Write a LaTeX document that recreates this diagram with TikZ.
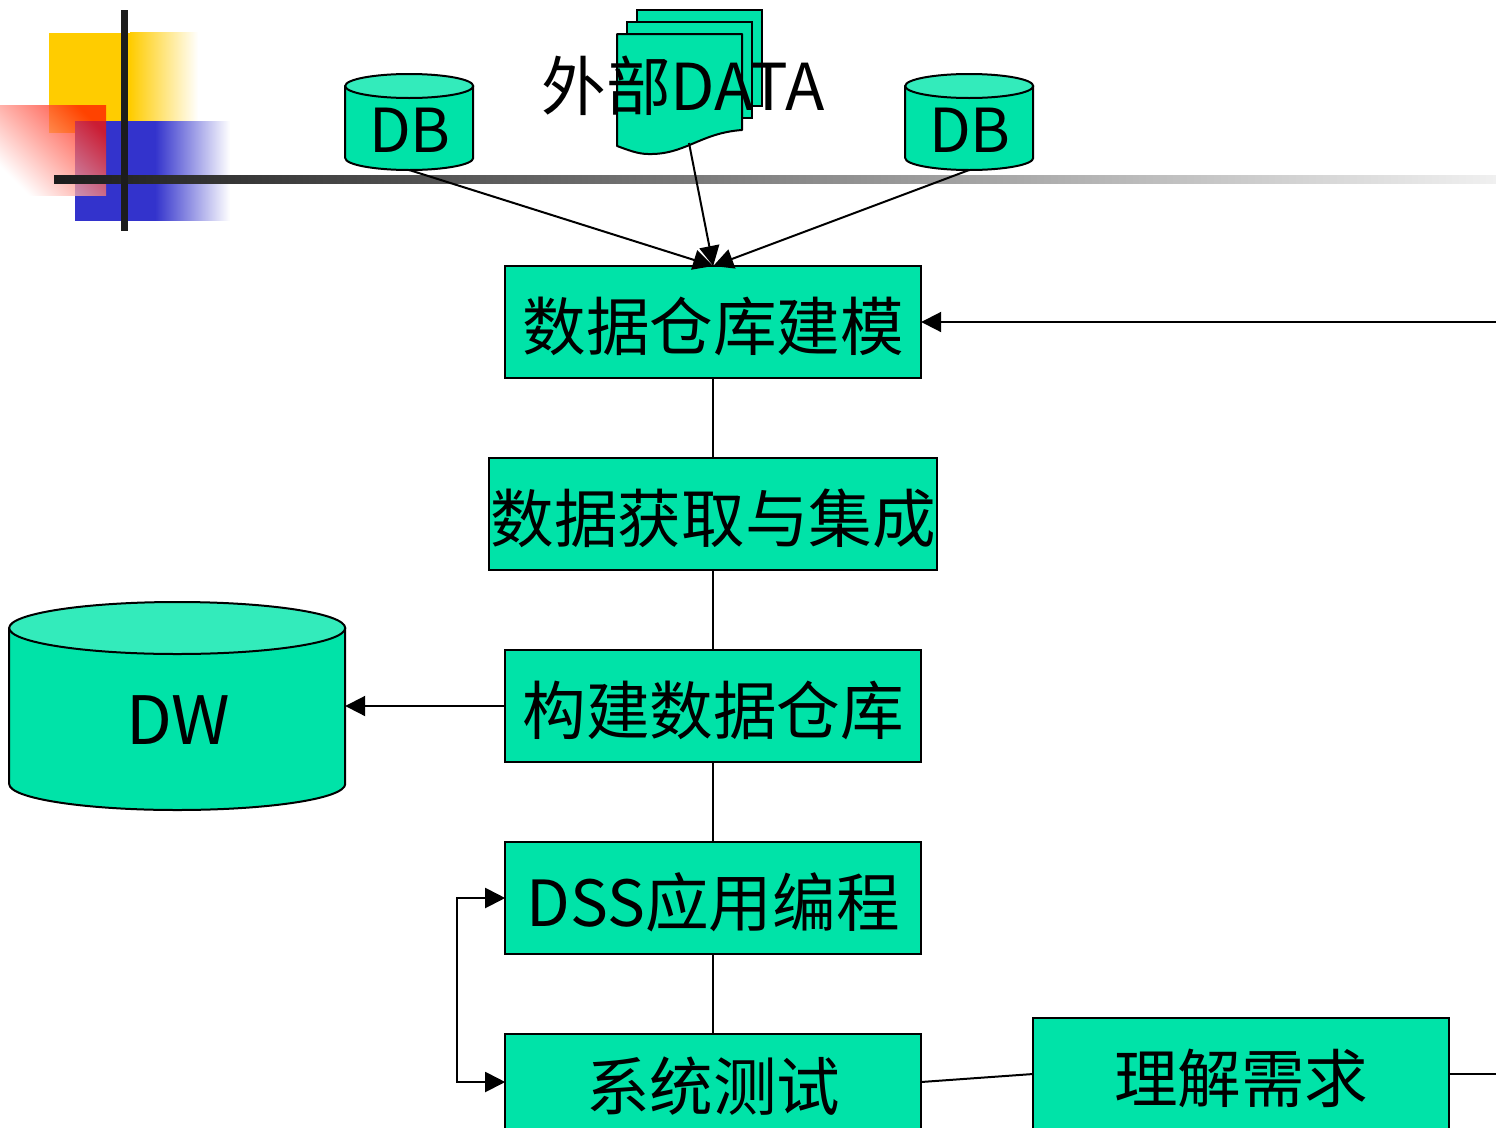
\documentclass[tikz,border=0pt]{standalone}
\usepackage{fontspec}
\setmainfont{Noto Sans CJK SC}
\usetikzlibrary{arrows.meta}
\definecolor{fillgreen}{HTML}{00E3A8}
\definecolor{topgreen}{HTML}{33EBBB}
\definecolor{barblack}{HTML}{1C1C1C}
\definecolor{barend}{HTML}{F0F0F0}
\definecolor{blockyellow}{HTML}{FFCC00}
\definecolor{blockblue}{HTML}{3333CC}
\definecolor{blockred}{HTML}{FF1500}
\tikzset{
  x=0.75pt,y=-0.75pt,
  line/.style={line width=1.5pt,black},
  arrowline/.style={line,-{Triangle[length=15pt,width=15pt]}},
  lab/.style={font=\fontsize{48.5pt}{54pt}\selectfont,inner sep=0pt,outer sep=0pt,text=black},
  flow/.style={font=\fontsize{47.7pt}{54pt}\selectfont,inner sep=0pt,outer sep=0pt,text=black,text height=49pt,text depth=6pt,draw=black,line width=1.5pt,fill=fillgreen,minimum width=312pt,minimum height=84pt},
  page/.style={draw=black,line width=1.5pt,fill=fillgreen},
  capfill/.style={draw=black,line width=1.5pt,fill=topgreen}
}
\newcommand{\cylpath}[6]{% left,right,top,bottom,ry,name
  \draw[line,fill=fillgreen,line join=round] (#1,#3) -- (#1,#4) arc[start angle=180,delta angle=-180,x radius={(#2-#1)/2},y radius=#5] -- (#2,#3) -- cycle;
  \draw[capfill] ({(#1+#2)/2},#3) ellipse[x radius={(#2-#1)/2},y radius=#5];
  \coordinate (#6) at ({(#1+#2)/2},{#4+#5});
}
\begin{document}
\begin{tikzpicture}
\useasboundingbox (0,0) rectangle (1496,1128);
\clip (0,0) rectangle (1496,1128);
\fill[white] (0,0) rectangle (1496,1128);
% decoration
\fill[blockyellow] (49,33) rectangle (130,133);
\shade[left color=blockyellow,right color=white] (130,32) rectangle (198,121);
\fill[blockblue] (75,121) rectangle (155.5,221);
\shade[left color=blockblue,right color=white] (155,121) rectangle (230,220.5);
\shade[top color=blockred,bottom color=white,shading angle=315,opacity=0.75] (0,105) rectangle (106,195);
\shade[left color=barblack,right color=barend] (54,175) rectangle (1496,183);
\fill[barblack] (121,10) rectangle (128,231);
% stacked document
\draw[page] (637,10) rectangle (762,106);
\draw[page] (627,22) rectangle (751.5,118);
\draw[page,line join=round] (617,34) -- (742,34) -- (742,130) .. controls (700,133) and (685,155) .. (648,154) .. controls (638,154) and (628,150) .. (617,146) -- cycle;
\coordinate (docfoot) at (689,143);
\node[lab,anchor=west] (extlabel) at (541.5,86) {外部DATA};
% cylinders
\cylpath{345.2}{473.2}{86}{158}{12}{dbleftfoot}
\node[lab,font=\fontsize{45.5pt}{54pt}\selectfont] (dbleft) at (410,130) {DB};
\cylpath{905.2}{1033.2}{86}{158}{12}{dbrightfoot}
\node[lab,font=\fontsize{45.5pt}{54pt}\selectfont] (dbright) at (970,130) {DB};
\cylpath{9.2}{345.2}{628}{784}{26}{dwfoot}
\coordinate (dweast) at (345.2,706);
\node[lab,font=\fontsize{50pt}{54pt}\selectfont] (dw) at (178,720) {DW};
% flow boxes
\node[flow] (model) at (713.2,322) {数据仓库建模};
\node[flow,minimum width=336pt] (acquire) at (713.2,514) {数据获取与集成};
\node[flow] (build) at (713.2,706) {构建数据仓库};
\node[flow] (dss) at (713.2,898) {DSS应用编程};
\node[flow,minimum height=72pt] (test) at (713.2,1082) {系统测试};
\node[flow] (need) at (1241.2,1074) {理解需求};
\coordinate (feedback) at (1496,322);
\coordinate (needout) at (1496,1074);
% connectors
\draw[arrowline] (dbleftfoot) -- (model.north);
\draw[arrowline] (docfoot) -- (model.north);
\draw[arrowline] (dbrightfoot) -- (model.north);
\draw[arrowline] (feedback) -- (model.east);
\draw[line] (model) -- (acquire);
\draw[line] (acquire) -- (build);
\draw[line] (build) -- (dss);
\draw[line] (dss) -- (test);
\draw[arrowline] (build.west) -- (dweast);
\draw[line,{Triangle[length=15pt,width=15pt]}-{Triangle[length=15pt,width=15pt]}] (dss.west) -- ++(-48,0) |- (test.west);
\draw[line] (test.east) -- (need.west);
\draw[line] (need.east) -- (needout);
\end{tikzpicture}
\end{document}
